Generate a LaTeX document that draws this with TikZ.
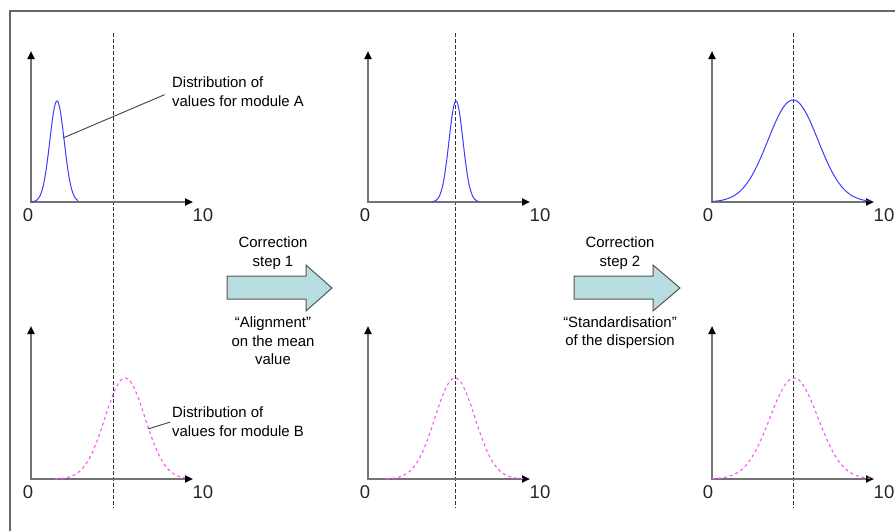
\documentclass[tikz,border=0pt]{standalone}
\usepackage{fontspec}
\setmainfont{Liberation Sans}
\usetikzlibrary{arrows.meta,positioning,calc}

\definecolor{framegray}{RGB}{102,102,102}
\definecolor{axisgray}{RGB}{115,115,115}
\definecolor{arrowfill}{RGB}{183,221,224}
\definecolor{arrowline}{RGB}{85,85,85}
\definecolor{curveA}{RGB}{60,60,255}
\definecolor{curveB}{RGB}{255,80,255}

\tikzset{
  axis/.style={draw=axisgray, line width=2pt,
    {Triangle[length=8pt,width=7pt,color=black]}-{Triangle[length=8pt,width=7pt,color=black]}},
  meanline/.style={draw=black!80, line width=0.9pt, dash pattern=on 3.5pt off 2.5pt},
  distA/.style={draw=curveA, line width=1pt},
  distB/.style={draw=curveB, line width=1.1pt, dash pattern=on 3pt off 3pt},
  tick/.style={font=\fontsize{18.5}{20}\selectfont, text=black!85, inner sep=0pt},
  note/.style={font=\fontsize{14.9}{18.5}\selectfont, inner sep=0pt},
  blockarrow/.style={draw=arrowline, fill=arrowfill, line width=1pt, line join=miter},
  leader/.style={draw=black!75, line width=0.9pt}
}

\begin{document}
\begin{tikzpicture}[x=1pt,y=-1pt]
\useasboundingbox (0,0) rectangle (895,531);

% frame
\draw[framegray, line width=1.8pt] (10,531) -- (10,11) -- (895,11);

% mean lines
\draw[meanline] (113,33) -- (113,508);
\draw[meanline] (455,33) -- (455,508);
\draw[meanline] (793,33) -- (793,508);

% axes, top row
\draw[axis] (31,51) -- (31,202) -- (193,202);
\draw[axis] (368,51) -- (368,202) -- (530,202);
\draw[axis] (712,51) -- (712,202) -- (874,202);

% axes, bottom row
\draw[axis] (31,326) -- (31,479) -- (193,479);
\draw[axis] (368,326) -- (368,479) -- (530,479);
\draw[axis] (712,326) -- (712,479) -- (874,479);

% axis labels
\node[tick] (zA1) at (28,215) {0};
\node[tick] (tA1) at (203,215) {10};
\node[tick] (zA2) at (365,215) {0};
\node[tick] (tA2) at (540,215) {10};
\node[tick] (zA3) at (708,215) {0};
\node[tick] (tA3) at (884,215) {10};
\node[tick] (zB1) at (28,492) {0};
\node[tick] (tB1) at (203,492) {10};
\node[tick] (zB2) at (365,492) {0};
\node[tick] (tB2) at (540,492) {10};
\node[tick] (zB3) at (708,492) {0};
\node[tick] (tB3) at (884,492) {10};

% module A
\draw[distA] plot[domain=31:78, samples=80, smooth] (\x,{202-101*exp(-((\x-57)^2)/(2*7.2^2))});
\draw[distA] plot[domain=432:479, samples=80, smooth] (\x,{202-101*exp(-((\x-456)^2)/(2*7^2))});
\draw[distA] plot[domain=712:870, samples=100, smooth] (\x,{202-102*exp(-((\x-793)^2)/(2*25^2))});

% module B
\draw[distB] plot[domain=55:185, samples=90, smooth] (\x,{479-101*exp(-((\x-125)^2)/(2*20^2))});
\draw[distB] plot[domain=386:525, samples=90, smooth] (\x,{479-101*exp(-((\x-455)^2)/(2*20^2))});
\draw[distB] plot[domain=712:870, samples=100, smooth] (\x,{479-101*exp(-((\x-794)^2)/(2*24^2))});

% labels of the two distributions
\node[note, anchor=west, align=left] (labA) at (172,91.5) {Distribution of\\values for module A};
\node[note, anchor=west, align=left] (labB) at (172,421.5) {Distribution of\\values for module B};
\coordinate (onA) at (63,138);
\coordinate (onB) at (148,429);
\draw[leader, shorten >=8pt] (onA) -- (labA.west);
\draw[leader, shorten >=2pt] (onB) -- (labB.west);

% correction steps
\draw[blockarrow] (227,276) -- (306,276) -- (306,265) -- (332,288) -- (306,311) -- (306,299) -- (227,299) -- cycle;
\draw[blockarrow] (574,276) -- (653,276) -- (653,265) -- (680,288) -- (653,311) -- (653,299) -- (574,299) -- cycle;

\node[note, align=center] (step1) at (273,253) {Correction\\step 1};
\node[note, align=center] (align1) at (273,341) {“Alignment”\\on the mean\\value};
\node[note, align=center] (step2) at (620,253) {Correction\\step 2};
\node[note, align=center] (stand2) at (620,332.5) {“Standardisation”\\of the dispersion};
\end{tikzpicture}
\end{document}
